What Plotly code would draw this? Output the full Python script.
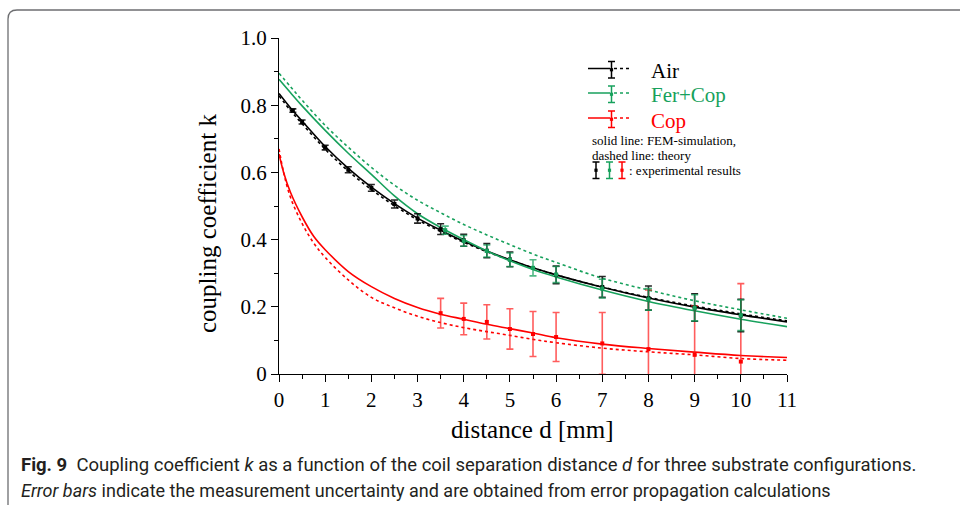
import plotly.graph_objects as go

# ---- simulation / theory curves -------------------------------------------
d_curve = [0, 0.25, 0.5, 1, 1.5, 2, 2.5, 3, 3.5, 4, 4.5, 5, 5.5, 6, 7, 8, 9, 10, 11]
air_fem = [0.835, 0.792, 0.753, 0.677, 0.612, 0.556, 0.507, 0.464, 0.428, 0.395,
           0.366, 0.340, 0.316, 0.295, 0.258, 0.226, 0.199, 0.176, 0.155]
air_theory = [0.828, 0.784, 0.745, 0.669, 0.604, 0.549, 0.501, 0.459, 0.424, 0.392,
              0.364, 0.339, 0.316, 0.295, 0.259, 0.228, 0.202, 0.179, 0.158]
fercop_fem = [0.877, 0.837, 0.798, 0.725, 0.657, 0.594, 0.530, 0.477, 0.436, 0.400,
              0.366, 0.337, 0.311, 0.289, 0.250, 0.216, 0.188, 0.163, 0.141]
fercop_theory = [0.895, 0.855, 0.815, 0.740, 0.675, 0.615, 0.562, 0.517, 0.480, 0.445,
                 0.414, 0.385, 0.357, 0.332, 0.285, 0.250, 0.218, 0.191, 0.166]

d_cop_curve = [0, 0.1, 0.25, 0.5, 0.75, 1, 1.5, 2, 2.5, 3, 3.5, 4, 4.5, 5, 5.5, 6,
               7, 8, 9, 10, 11]
cop_fem = [0.655, 0.600, 0.540, 0.468, 0.410, 0.370, 0.305, 0.260, 0.225, 0.198,
           0.178, 0.163, 0.148, 0.135, 0.122, 0.108, 0.089, 0.076, 0.065, 0.055, 0.049]
cop_theory = [0.670, 0.600, 0.525, 0.448, 0.390, 0.347, 0.280, 0.228, 0.197, 0.172,
              0.153, 0.138, 0.126, 0.115, 0.103, 0.093, 0.077, 0.066, 0.057, 0.046, 0.041]

# ---- measurements ------------------------------------------------------------
d_air = [0.3, 0.5, 1, 1.5, 2, 2.5, 3, 3.5, 4, 4.5, 5, 6, 7, 8, 9, 10]
k_air = [0.784, 0.750, 0.674, 0.608, 0.554, 0.506, 0.463, 0.431, 0.398, 0.367,
         0.341, 0.295, 0.259, 0.226, 0.198, 0.174]
err_air = [0.005, 0.006, 0.007, 0.009, 0.010, 0.012, 0.014, 0.016, 0.018, 0.021,
           0.022, 0.026, 0.031, 0.036, 0.041, 0.048]

d_fercop = [3.6, 4, 4.5, 5, 5.5, 6, 7, 8, 9, 10]
k_fercop = [0.428, 0.396, 0.366, 0.340, 0.316, 0.296, 0.254, 0.222, 0.197, 0.175]
err_fercop = [0.012, 0.016, 0.018, 0.020, 0.024, 0.024, 0.028, 0.032, 0.039, 0.046]

d_cop = [3.5, 4, 4.5, 5, 5.5, 6, 7, 8, 9, 10]
k_cop = [0.181, 0.164, 0.155, 0.134, 0.119, 0.110, 0.091, 0.074, 0.057, 0.037]
err_cop = [0.044, 0.047, 0.051, 0.060, 0.067, 0.073, 0.092, 0.176, 0.146, 0.232]

x_ticks = [0, 1, 2, 3, 4, 5, 6, 7, 8, 9, 10, 11]
y_ticks = [0, 0.2, 0.4, 0.6, 0.8, 1.0]
y_tick_text = ["0", "0.2", "0.4", "0.6", "0.8", "1.0"]

BLACK = "#000000"
GREEN = "#17a15c"
RED = "#ff0000"
SERIF = "Liberation Serif, Times New Roman, serif"
SANS = "Roboto, Liberation Sans, sans-serif"

W, H = 960, 505
L, R, T, B = 279, 787, 38, 374  # plot area edges in pixels


def px(x):
    return (x - L) / (R - L)


def py(y):
    return (B - y) / (B - T)


fig = go.Figure()


def curve(x, y, color, dash):
    fig.add_trace(go.Scatter(
        x=x, y=y, mode="lines", line=dict(color=color, width=1.6, dash=dash,
                                          shape="spline", smoothing=1.0),
        showlegend=False, hoverinfo="skip"))


curve(d_curve, air_theory, BLACK, "dot")
curve(d_curve, air_fem, BLACK, "solid")
curve(d_curve, fercop_theory, GREEN, "dot")
curve(d_curve, fercop_fem, GREEN, "solid")
curve(d_cop_curve, cop_theory, RED, "dot")
curve(d_cop_curve, cop_fem, RED, "solid")


def measured(x, y, err, color, bar_color):
    fig.add_trace(go.Scatter(
        x=x, y=y, mode="markers",
        marker=dict(symbol="square", size=4, color=color),
        error_y=dict(type="data", array=err, visible=True, color=bar_color,
                     thickness=1.6, width=3.5),
        showlegend=False, hoverinfo="skip"))


measured(d_cop, k_cop, err_cop, RED, "rgba(255,30,30,0.72)")
measured(d_air, k_air, err_air, BLACK, "rgba(0,0,0,0.85)")
measured(d_fercop, k_fercop, err_fercop, GREEN, "rgba(23,161,92,0.75)")

# ---- legend glyphs -----------------------------------------------------------
shapes = []
annotations = []


def seg(x0, y0, x1, y1, color, dash="solid", width=1.5):
    shapes.append(dict(type="line", xref="paper", yref="paper",
                       x0=px(x0), y0=py(y0), x1=px(x1), y1=py(y1),
                       line=dict(color=color, width=width, dash=dash)))


def errglyph(x, ytop, ybot, color):
    seg(x, ytop, x, ybot, color)
    seg(x - 3.5, ytop, x + 3.5, ytop, color)
    seg(x - 3.5, ybot, x + 3.5, ybot, color)
    ym = (ytop + ybot) / 2
    shapes.append(dict(type="rect", xref="paper", yref="paper",
                       x0=px(x - 1.6), x1=px(x + 1.6), y0=py(ym - 1.6), y1=py(ym + 1.6),
                       fillcolor=color, line=dict(width=0)))


def text(s, x, y, size, color=BLACK, family=SERIF, xanchor="left", angle=0):
    annotations.append(dict(text=s, xref="paper", yref="paper", x=px(x), y=py(y),
                            xanchor=xanchor, yanchor="middle", showarrow=False,
                            textangle=angle, font=dict(family=family, size=size, color=color)))


legend_rows = [("Air", BLACK, 68.5), ("Fer+Cop", GREEN, 93), ("Cop", RED, 118)]
for name, color, yline in legend_rows:
    seg(588, yline, 610, yline, color)
    errglyph(611.5, yline - 7, yline + 9.5, color)
    seg(614, yline, 632, yline, color, dash="dot")
    text(name, 649, yline + 2.5, 21, color)

text("solid line: FEM-simulation,", 590, 140, 13)
text("dashed line: theory", 590, 155.5, 13)
errglyph(596, 162, 178.5, BLACK)
errglyph(609.5, 162, 178.5, GREEN)
errglyph(622, 162, 178.5, RED)
text(": experimental results", 627, 170, 13)

# ---- axis titles -----------------------------------------------------------------
text("distance d [mm]", 532, 429, 25, xanchor="center")
text("coupling coefficient k", 207, 224, 25, xanchor="center", angle=-90)

# ---- caption -------------------------------------------------------------------
text("<b>Fig. 9</b>  Coupling coefficient <i>k</i> as a function of the coil "
     "separation distance <i>d</i> for three substrate configurations.",
     19, 465, 18.5, "#231f20", SANS)
text("<i>Error bars</i> indicate the measurement uncertainty and are obtained "
     "from error propagation calculations", 19, 491, 18, "#231f20", SANS)

# ---- rounded frame around the figure -------------------------------------------
r = 9
fx0, fy0, fx1, fy1 = 8, 10, 975, 520
frame = (f"M {px(fx0)},{py(fy1)} L {px(fx0)},{py(fy0 + r)} "
         f"Q {px(fx0)},{py(fy0)} {px(fx0 + r)},{py(fy0)} L {px(fx1)},{py(fy0)}")
shapes.append(dict(type="path", xref="paper", yref="paper", path=frame,
                   line=dict(color="#6d6e71", width=1.3)))

axis_common = dict(
    showgrid=False, zeroline=False, showline=True, linecolor=BLACK, linewidth=1.3,
    ticks="outside", ticklen=7, tickwidth=1.3, tickcolor=BLACK,
    tickfont=dict(family=SERIF, size=21, color=BLACK),
)

fig.update_layout(
    width=W, height=H,
    margin=dict(l=L, r=W - R, t=T, b=H - B),
    paper_bgcolor="white", plot_bgcolor="white",
    shapes=shapes, annotations=annotations,
    xaxis=dict(range=[0, 11], tickvals=x_ticks,
               minor=dict(ticks="outside", ticklen=4, tickwidth=1.2, dtick=0.5,
                          tickcolor=BLACK),
               **axis_common),
    yaxis=dict(range=[0, 1], tickvals=y_ticks, ticktext=y_tick_text,
               minor=dict(ticks="outside", ticklen=4, tickwidth=1.2, dtick=0.1,
                          tickcolor=BLACK),
               **axis_common),
)

fig.write_html("out.html")
